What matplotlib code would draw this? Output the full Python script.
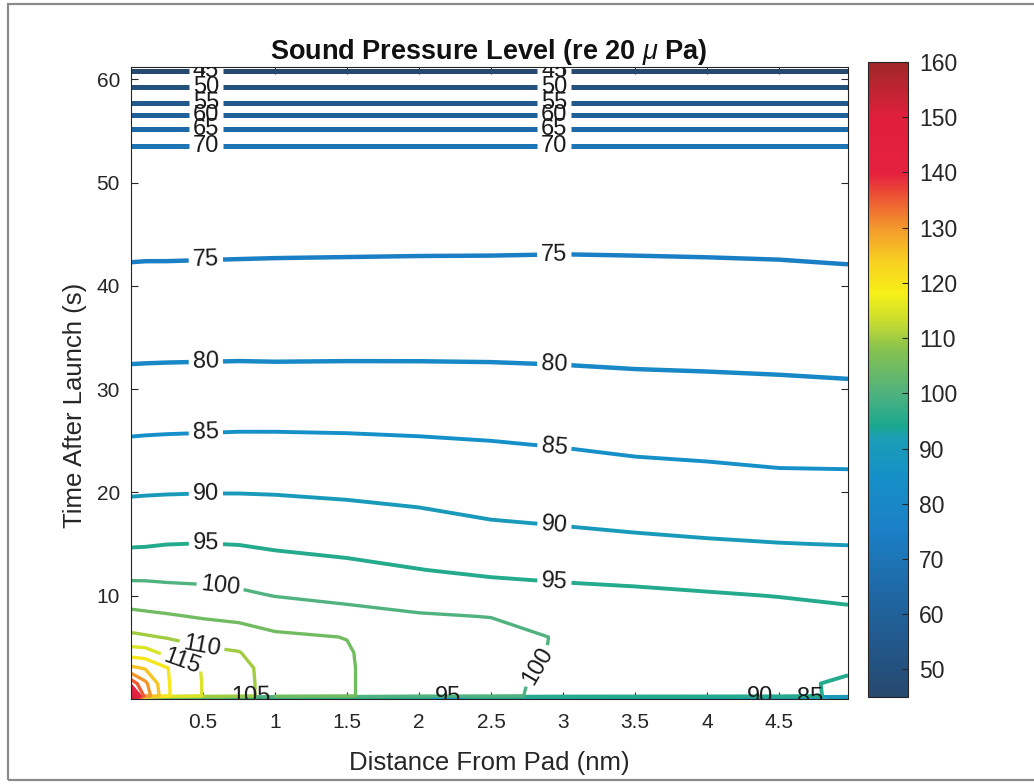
import matplotlib
matplotlib.use("Agg")
import matplotlib.pyplot as plt
import numpy as np
from matplotlib import font_manager
from matplotlib.colors import LinearSegmentedColormap, Normalize
from matplotlib.cm import ScalarMappable
from matplotlib.patches import Rectangle

plt.rcParams['font.family'] = ['Liberation Sans', 'DejaVu Sans']
plt.rcParams['mathtext.fontset'] = 'custom'
plt.rcParams['mathtext.it'] = 'Liberation Sans:italic'
plt.rcParams['mathtext.rm'] = 'Liberation Sans'

# distance from pad (nm) and time after launch (s)
distance = [0, 0.1, 0.25, 0.5, 0.75, 1.0, 1.5, 2.0, 2.5, 3.0, 3.5, 4.0, 4.5, 4.98]
time = [0, 0.3, 1.5, 3, 4.5, 6, 8, 10, 12.5, 15, 20, 26, 33, 43, 50, 53.5,
        54, 56, 58, 60, 61.2]

# sound pressure level (dB), one row per time, one column per distance
spl = [
    [160, 81, 81, 81, 81, 81, 81, 81, 81, 81, 81, 81, 81, 81],
    [152, 133, 120.5, 114.8, 112, 107.5, 105.5, 101.3, 101.0, 98.8, 98.2, 97.9, 97.5, 93.5],
    [138, 131, 120.4, 114.8, 112, 107.5, 105.5, 101.3, 101.1, 98.9, 98.3, 98.0, 97.6, 93.3],
    [126, 124.5, 120.2, 114.6, 111.8, 107.4, 105.5, 101.3, 101.4, 99.2, 98.4, 98.1, 97.6, 96.5],
    [117.5, 117, 113.5, 111.2, 110.2, 106.8, 105.4, 101.2, 101.7, 99.5, 98.5, 98.1, 97.5, 96.8],
    [111, 110.5, 109.7, 108.2, 107.5, 105.8, 104.9, 101.0, 101.6, 99.6, 98.5, 98.0, 97.3, 96.6],
    [106.4, 106, 105.5, 104.6, 103.9, 102.8, 101.4, 100.4, 99.9, 98.6, 97.9, 97.3, 96.5, 95.9],
    [102.4, 102.2, 101.8, 101.4, 100.8, 99.9, 99.0, 98.1, 97.3, 96.4, 95.9, 95.4, 94.9, 94.3],
    [98.3, 98.4, 98.3, 98.2, 97.9, 97.2, 96.2, 95.1, 94.1, 93.7, 93.4, 92.9, 92.5, 92.1],
    [94.5, 94.6, 94.95, 95.1, 94.9, 94.3, 93.6, 92.7, 91.8, 91.3, 90.8, 90.4, 90.1, 89.9],
    [89.6, 89.7, 89.8, 89.9, 89.9, 89.8, 89.4, 88.9, 88.0, 87.6, 87.2, 86.9, 86.5, 86.5],
    [84.5, 84.6, 84.7, 84.8, 84.9, 84.9, 84.8, 84.6, 84.4, 84.0, 83.4, 83.1, 82.7, 82.5],
    [79.6, 79.65, 79.7, 79.75, 79.8, 79.75, 79.8, 79.8, 79.75, 79.6, 79.4, 79.3, 79.2, 79.0],
    [74.65, 74.7, 74.7, 74.75, 74.8, 74.85, 74.9, 74.95, 74.97, 75.03, 74.97, 74.9, 74.8, 74.6],
    [71.6, 71.6, 71.6, 71.6, 71.6, 71.65, 71.65, 71.7, 71.7, 71.7, 71.7, 71.7, 71.65, 71.6],
    [70.05, 70.05, 70.05, 70.05, 70.05, 70.05, 70.05, 70.05, 70.05, 70.05, 70.05, 70.05, 70.05, 70.05],
    [68.75, 68.75, 68.75, 68.75, 68.75, 68.75, 68.75, 68.75, 68.75, 68.75, 68.75, 68.75, 68.75, 68.75],
    [62.3, 62.3, 62.3, 62.3, 62.3, 62.3, 62.3, 62.3, 62.3, 62.3, 62.3, 62.3, 62.3, 62.3],
    [54.0, 54.0, 54.0, 54.0, 54.0, 54.0, 54.0, 54.0, 54.0, 54.0, 54.0, 54.0, 54.0, 54.0],
    [47.5, 47.5, 47.5, 47.5, 47.5, 47.5, 47.5, 47.5, 47.5, 47.5, 47.5, 47.5, 47.5, 47.5],
    [43.8, 43.8, 43.8, 43.8, 43.8, 43.8, 43.8, 43.8, 43.8, 43.8, 43.8, 43.8, 43.8, 43.8],
]

levels = list(range(45, 161, 5))
cbar_ticks = list(range(50, 161, 10))

# colour map
cmap = LinearSegmentedColormap.from_list('spl', [
    (0.000, '#27496e'), (0.087, '#22598c'), (0.174, '#1e6aa8'),
    (0.261, '#1b80c6'), (0.348, '#1690c8'), (0.409, '#1a9eb5'),
    (0.426, '#1ba88f'), (0.478, '#4fb27f'), (0.548, '#86c24e'),
    (0.591, '#c8dc30'), (0.635, '#f6f018'), (0.687, '#f8d020'),
    (0.739, '#f39a2c'), (0.791, '#ec5034'), (0.826, '#e5213f'),
    (0.913, '#e01f3c'), (1.000, '#a02828')])
norm = Normalize(45, 160)

names = {f.name for f in font_manager.fontManager.ttflist}
label_family = 'Liberation Sans Narrow' if 'Liberation Sans Narrow' in names else 'Liberation Sans'

fig = plt.figure(figsize=(10.34, 7.84), dpi=100)
ax = fig.add_axes([131/1034, 85/784, 717/1034, 632/784])
cax = fig.add_axes([868/1034, 87/784, 40/1034, 635/784])

label_spots = {
    45: [(0.52, 60.8), (2.94, 60.8)],
    50: [(0.52, 59.2), (2.94, 59.2)],
    55: [(0.52, 57.7), (2.94, 57.7)],
    60: [(0.52, 56.7), (2.94, 56.7)],
    65: [(0.52, 55.2), (2.94, 55.2)],
    70: [(0.52, 53.6), (2.94, 53.6)],
    75: [(0.52, 42.5), (2.94, 43.0)],
    80: [(0.52, 32.5), (2.94, 32.4)],
    85: [(0.52, 25.7), (2.94, 24.3), (4.72, 0.1)],
    90: [(0.52, 19.9), (2.94, 16.7), (4.37, 0.1)],
    95: [(0.52, 15.0), (2.94, 11.2), (2.2, 0.1)],
    100: [(0.62, 11.0), (2.8, 3.4)],
    105: [(0.83, 0.2)],
    110: [(0.49, 5.0)],
    115: [(0.35, 3.4)],
}

# one contour set per level so each label lands on its own line
for lv in levels:
    if lv <= 70:
        lw = 3.6
    elif lv <= 80:
        lw = 3.2
    elif lv <= 95:
        lw = 2.8
    else:
        lw = 2.4
    cs = ax.contour(distance, time, spl, levels=[lv], colors=[cmap(norm(lv))],
                    linewidths=lw)
    if lv in label_spots:
        with plt.rc_context({'font.family': [label_family, 'DejaVu Sans']}):
            cs.clabel(manual=label_spots[lv], inline=True, inline_spacing=4,
                      fontsize=17, fmt='%d', colors='#1a1a1a')

ax.set_xlim(0, 4.98)
ax.set_ylim(0, 61.2)
ax.set_xticks([0.5, 1, 1.5, 2, 2.5, 3, 3.5, 4, 4.5])
ax.set_xticklabels(['0.5', '1', '1.5', '2', '2.5', '3', '3.5', '4', '4.5'])
ax.set_yticks([10, 20, 30, 40, 50, 60])
ax.tick_params(axis='x', pad=10)
ax.tick_params(axis='y', pad=8)
ax.tick_params(direction='in', length=5, width=0.8, top=True, right=True,
               labelsize=15, color='#262626', labelcolor='#262626')
for sp in ax.spines.values():
    sp.set_color('#262626')
    sp.set_linewidth(0.8)

ax.set_xlabel('Distance From Pad (nm)', fontsize=18.5, color='#262626')
ax.xaxis.label.set_va('center')
ax.xaxis.set_label_coords(0.5, -0.101)
ax.set_ylabel('Time After Launch (s)', fontsize=18.5, color='#262626')
ax.yaxis.label.set_va('center')
ax.yaxis.set_label_coords(-0.078, 0.465)

fig.text(489/1034, 1 - 52/784, r'Sound Pressure Level (re 20 $\mu$ Pa)',
         ha='center', va='center', fontsize=19.5, fontweight='bold', color='#111111')

cb = fig.colorbar(ScalarMappable(norm=norm, cmap=cmap), cax=cax)
cb.set_ticks(cbar_ticks)
cax.tick_params(direction='in', length=4, width=0.8, labelsize=16.5,
                color='#262626', labelcolor='#262626', pad=8)
cb.outline.set_linewidth(0.8)
cb.outline.set_edgecolor('#262626')

# scanned page frame
fig.add_artist(Rectangle((8/1034, 4/784), 1.1, 776/784, transform=fig.transFigure,
                         fill=False, edgecolor='#8a8a8a', linewidth=1.6))

fig.savefig('out.png', dpi=100)
